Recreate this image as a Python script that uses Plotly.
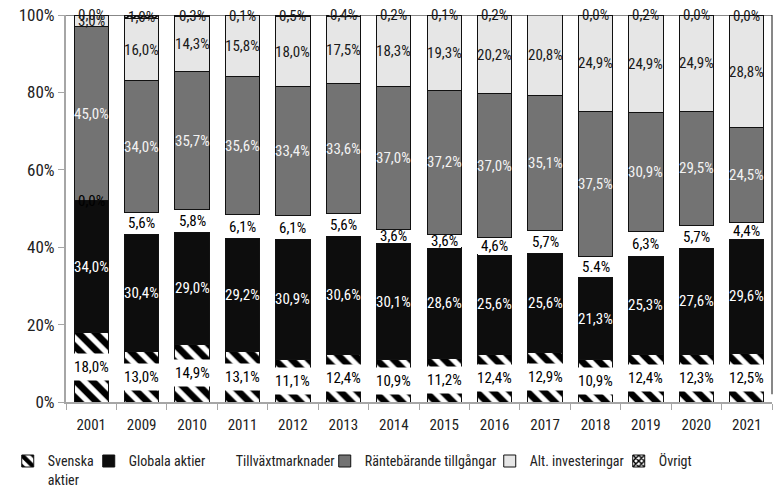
import plotly.graph_objects as go

years = ["2001", "2009", "2010", "2011", "2012", "2013", "2014",
         "2015", "2016", "2017", "2018", "2019", "2020", "2021"]

svenska = [18.0, 13.0, 14.9, 13.1, 11.1, 12.4, 10.9, 11.2, 12.4, 12.9, 10.9, 12.4, 12.3, 12.5]
globala = [34.0, 30.4, 29.0, 29.2, 30.9, 30.6, 30.1, 28.6, 25.6, 25.6, 21.3, 25.3, 27.6, 29.6]
tillvaxt = [0.0, 5.6, 5.8, 6.1, 6.1, 5.6, 3.6, 3.6, 4.6, 5.7, 5.4, 6.3, 5.7, 4.4]
rante = [45.0, 34.0, 35.7, 35.6, 33.4, 33.6, 37.0, 37.2, 37.0, 35.1, 37.5, 30.9, 29.5, 24.5]
alt = [3.0, 16.0, 14.3, 15.8, 18.0, 17.5, 18.3, 19.3, 20.2, 20.8, 24.9, 24.9, 24.9, 28.8]
ovrigt = [0.0, 1.0, 0.3, 0.1, 0.5, 0.4, 0.2, 0.1, 0.2, 0.0, 0.0, 0.2, 0.0, 0.0]

# the source labels 2018 with a point instead of a comma
tillvaxt_text = ["0,0%", "5,6%", "5,8%", "6,1%", "6,1%", "5,6%", "3,6%",
                 "3,6%", "4,6%", "5,7%", "5.4%", "6,3%", "5,7%", "4,4%"]

FONT = "Roboto Condensed, DejaVu Sans Condensed, sans-serif"


def pct(v):
    return f"{v:.1f}".replace(".", ",") + "%"


series = [
    # name, values, fill, pattern, line width, label colour, label bg, legend width
    ("Svenska<br>aktier", svenska, "white",
     dict(shape="\\", fgcolor="black", bgcolor="white", fgopacity=1, size=12, solidity=0.55),
     1, "black", "white", 36),
    ("Globala aktier", globala, "#0d0d0d", None, 1, "white", None, 62),
    ("Tillväxtmarknader", tillvaxt, "white", None, 0, "black", None, 84),
    ("Räntebärande tillgångar", rante, "#737373", None, 1, "#f2f2f2", None, 120),
    ("Alt. investeringar", alt, "#e6e6e6", None, 1, "#1a1a1a", None, 84),
    ("Övrigt", ovrigt, "black",
     dict(shape="x", fgcolor="black", bgcolor="white", fgopacity=1, size=5, solidity=0.6),
     1, "#1a1a1a", None, 36),
]

fig = go.Figure()
base = [0.0] * len(years)
annotations = []
for name, vals, fill, pattern, lw, tcol, tbg, legw in series:
    marker = dict(color=fill, line=dict(color="#111111", width=lw))
    if pattern:
        marker["pattern"] = pattern
    fig.add_trace(go.Bar(x=years, y=vals, name=name, marker=marker, legendwidth=legw))
    labels = tillvaxt_text if vals is tillvaxt else [pct(v) for v in vals]
    for i, v in enumerate(vals):
        # category axis: annotation x is the category index
        a = dict(x=i, y=base[i] + v / 2, text=labels[i], showarrow=False,
                 font=dict(family=FONT, size=15, color=tcol))
        if tbg:
            a.update(bgcolor=tbg, borderpad=4)
        annotations.append(a)
        base[i] += v

fig.update_layout(
    barmode="stack",
    bargap=0.32,
    width=774, height=496,
    margin=dict(l=66, r=2, t=15, b=94),
    paper_bgcolor="white", plot_bgcolor="white",
    font=dict(family=FONT, size=14, color="#222222"),
    annotations=annotations,
    legend=dict(orientation="h", xref="container", yref="container", x=0.01, y=0.102,
                xanchor="left", yanchor="top", font=dict(size=14, color="#222222"),
                itemwidth=30, valign="top", traceorder="normal"),
    shapes=[
        dict(type="line", xref="paper", yref="y", x0=0, x1=1, y0=100, y1=100,
             line=dict(color="#111111", width=1)),
        dict(type="line", xref="paper", yref="y", x0=1, x1=1, y0=2, y1=100,
             line=dict(color="#111111", width=1)),
    ],
)
fig.update_yaxes(range=[0, 100], tickmode="linear", tick0=0, dtick=20, ticksuffix="%",
                 showgrid=False, zeroline=False, showline=True, linecolor="#a6a6a6",
                 linewidth=2, ticks="outside", ticklen=6, tickcolor="#a6a6a6",
                 tickfont=dict(size=17, color="#222222"))
fig.update_xaxes(type="category", showgrid=False, showline=True, linecolor="#a6a6a6",
                 linewidth=2, ticks="outside", tickson="boundaries", ticklen=6,
                 tickcolor="#a6a6a6", ticklabelstandoff=8,
                 tickfont=dict(size=15, color="#222222"))

# drop the default 8px page margin so the figure sits at the window's corner
fig.write_html("out.html", config={"displayModeBar": False},
               post_script="document.body.style.margin='0';")
